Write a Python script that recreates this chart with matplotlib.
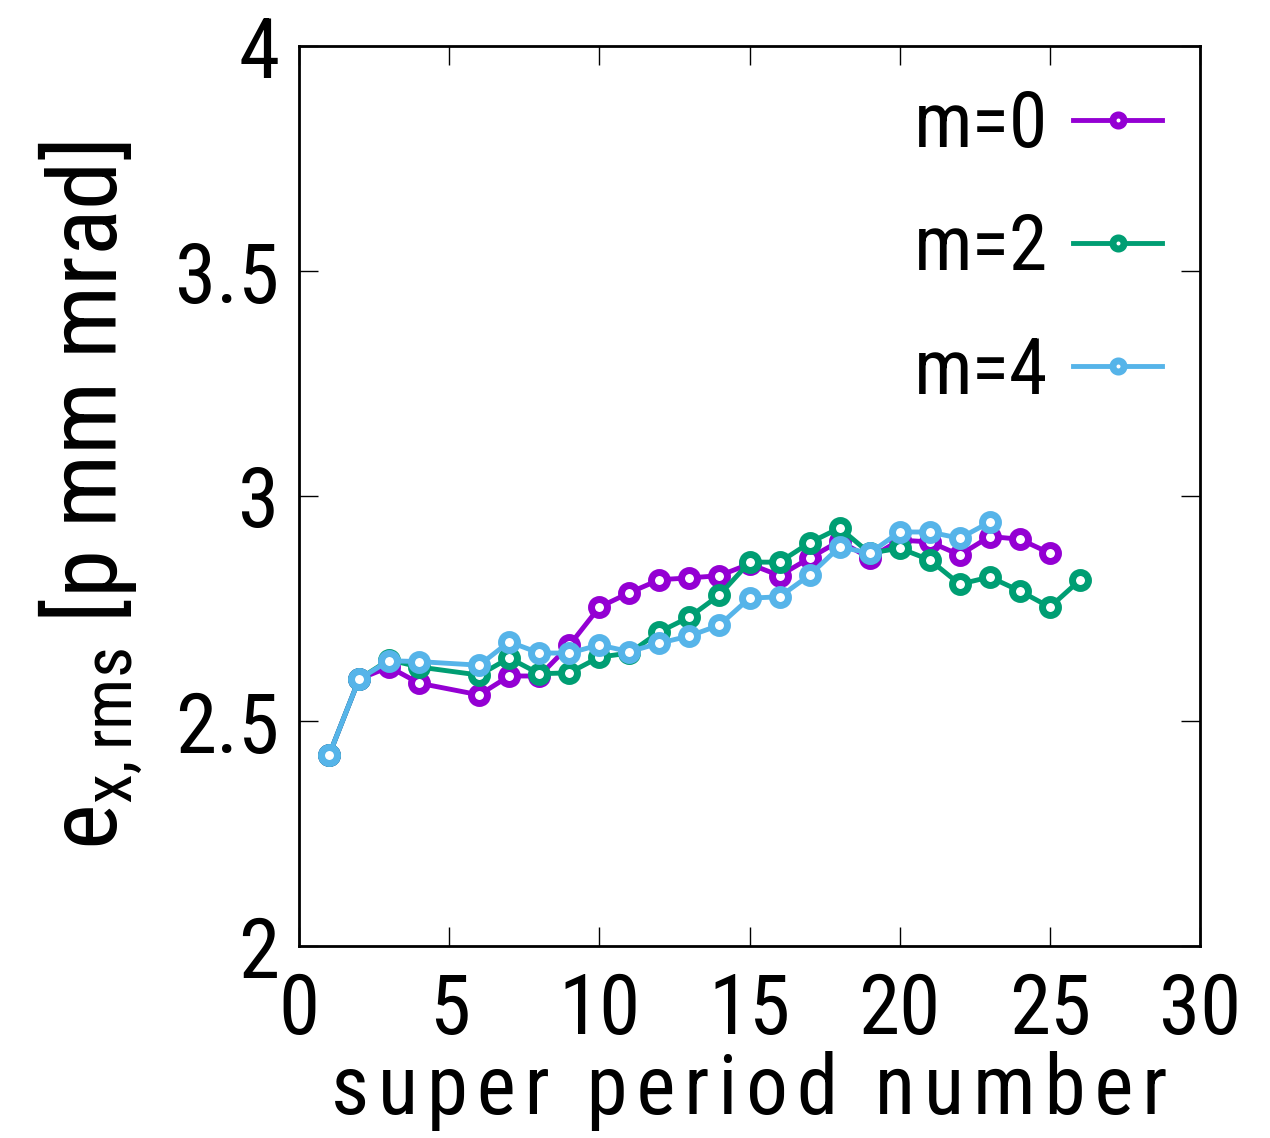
import matplotlib
matplotlib.use("Agg")
import matplotlib.pyplot as plt
from matplotlib import font_manager

# Emittance per super period for three multipole settings
x_m0 = [1, 2, 3, 4, 6, 7, 8, 9, 10, 11, 12, 13, 14, 15, 16, 17, 18, 19, 20, 21, 22, 23, 24, 25]
y_m0 = [2.424, 2.593, 2.620, 2.584, 2.558, 2.600, 2.600, 2.668, 2.753, 2.785, 2.814, 2.818,
        2.823, 2.849, 2.823, 2.862, 2.900, 2.862, 2.902, 2.898, 2.869, 2.910, 2.904, 2.873]

x_m2 = [1, 2, 3, 4, 6, 7, 8, 9, 10, 11, 12, 13, 14, 15, 16, 17, 18, 19, 20, 21, 22, 23, 24, 25, 26]
y_m2 = [2.424, 2.593, 2.636, 2.620, 2.602, 2.640, 2.605, 2.607, 2.642, 2.651, 2.698, 2.731,
        2.780, 2.853, 2.853, 2.896, 2.929, 2.873, 2.884, 2.858, 2.804, 2.820, 2.789, 2.753, 2.813]

x_m4 = [1, 2, 3, 4, 6, 7, 8, 9, 10, 11, 12, 13, 14, 15, 16, 17, 18, 19, 20, 21, 22, 23]
y_m4 = [2.424, 2.593, 2.634, 2.632, 2.624, 2.676, 2.651, 2.651, 2.669, 2.654, 2.673, 2.689,
        2.713, 2.773, 2.776, 2.824, 2.887, 2.873, 2.920, 2.920, 2.906, 2.942]

labels = ["m=0", "m=2", "m=4"]
colors = ["#9400D3", "#009E73", "#56B4E9"]

xticks = [0, 5, 10, 15, 20, 25, 30]
yticks = [2, 2.5, 3, 3.5, 4]
ytick_labels = ["2", "2.5", "3", "3.5", "4"]

# Prefer a narrow face if one is installed
available = {f.name for f in font_manager.fontManager.ttflist}
candidates = ["Roboto Condensed", "Liberation Sans Narrow", "Open Sans Condensed",
              "DejaVu Sans Condensed", "Noto Sans Condensed", "Roboto", "Liberation Sans"]
family = next((f for f in candidates if f in available), "DejaVu Sans")
plt.rcParams["font.family"] = [family, "DejaVu Sans"]
plt.rcParams["font.stretch"] = "condensed"
plt.rcParams["mathtext.fontset"] = "custom"
plt.rcParams["mathtext.rm"] = family
plt.rcParams["mathtext.it"] = family

fig = plt.figure(figsize=(12.7, 11.38), dpi=100)
ax = fig.add_axes([299 / 1270, 1 - 946 / 1138, 901 / 1270, 900 / 1138])

for xs, ys, lab, c in zip([x_m0, x_m2, x_m4], [y_m0, y_m2, y_m4], labels, colors):
    ax.plot(xs, ys, color=c, lw=3.5, marker="o", ms=11.5, mfc="white", mec=c, mew=5, label=lab)

ax.set_xlim(0, 30)
ax.set_ylim(2, 4)
ax.set_xticks(xticks)
ax.set_yticks(yticks)
ax.set_yticklabels(ytick_labels)
ax.tick_params(direction="in", length=14, width=1, top=True, right=True,
               labelsize=60, pad=14)
ax.tick_params(axis="x", pad=18)
for s in ax.spines.values():
    s.set_linewidth(2)

spaced = "\u200a".join("super period number")
ax.set_xlabel(spaced, fontsize=60, labelpad=0)
ax.set_ylabel(r"$\mathregular{e_{x,rms}}$ [p mm mrad]", fontsize=70, labelpad=22)

leg = ax.legend(loc="upper right", bbox_to_anchor=(1.01, 1.005), frameon=False,
                markerfirst=False, fontsize=56, handlelength=1.15, handletextpad=0.32,
                labelspacing=0.62, borderaxespad=0.2)
for t in leg.get_texts():
    t.set_ha("right")
for h in leg.legend_handles:
    h.set_markersize(8)

fig.savefig("out.png", dpi=100)
